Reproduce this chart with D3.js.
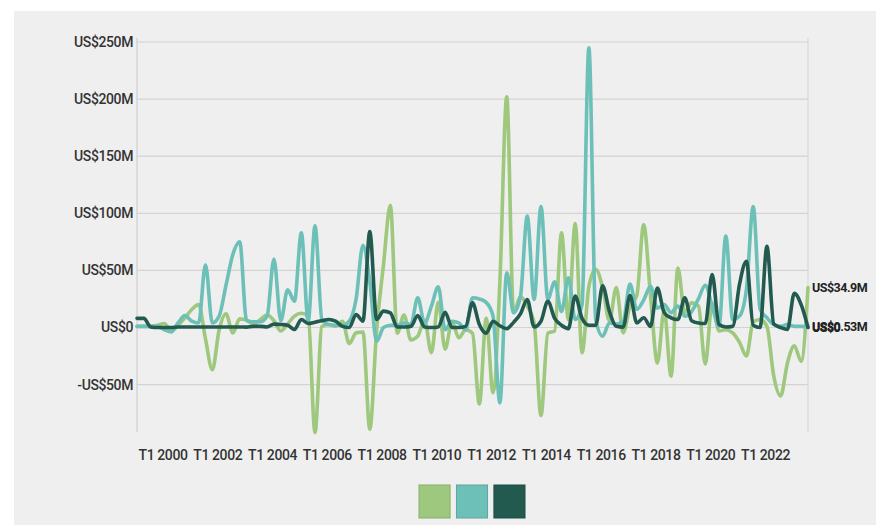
<!DOCTYPE html>
<html>
<head>
<meta charset="utf-8">
<script src="https://cdn.jsdelivr.net/npm/d3@7"></script>
<style>
  html, body { margin: 0; padding: 0; background: #ffffff; }
  svg { display: block; }
  text { font-family: Roboto, "Noto Sans", sans-serif; }
</style>
</head>
<body>
<svg id="chart" width="890" height="525"></svg>
<script>
// ---------- data (US$ millions, quarterly T1 2000 .. T3 2024) ----------
const years = d3.range(2000, 2025);
const quarters = [];
years.forEach(y => [1, 2, 3, 4].forEach(q => quarters.push("T" + q + " " + y)));
const categories = quarters.slice(0, 99);

const seriesNames = ["Série 1", "Série 2", "Série 3"];

const seriesGreen = [
  1, 1, 1, 2, 3.5, -3, 2, 8.5, 15.8, 20,
  -10, -37, -2, 12, -4.7, 7.6, 6.4, 2.6, 7, 11,
  6, -3, 3, 10, 12.5, 10, -92, 1, 2.6, 1,
  5.5, -14, -4.7, -4, -89, -2, 55, 107, -5, 11,
  -11, -7.6, 6, -22, 22, -19, 5, -9, -2, -5,
  -67, 8, -57, 40, 202, 13, 27, 18.7, 4, -77,
  -5, -3, 83, 7, 91, -22, 36, 51, 35, 6,
  35, -4.7, 18.7, 28, 90, 28, -31, 15, -42.6, 52,
  13, 21.6, 18.7, -32, 21.6, -3, -2, -4.7, -13, -25,
  5, 7, 1, -42.6, -60, -31, -16, -29.5, 34.9
];

const seriesTeal = [
  1, 1, 1, 1, -2, -4, 4, 10.5, 5.5, 4,
  55, 4, 10, 37, 64, 75, 6, 5, 5, 10,
  60, 6, 33, 23, 83, 5.5, 89, 7, 2.6, 2,
  2, 5.5, 25, 72, 40, -12, 0, 2, 2, 4,
  2.6, 26, 4, 18.7, 35.6, -2, 5.5, 4, -2, 26,
  25, 22, 10, -66, 48, 13, 27, 97.5, 24.5, 106,
  25, 40, 14, 43.5, 7, 20, 245, 7, -7.6, 4,
  3, 5, 38, 16, 24, 36, 17, 20, 13, 18.7,
  10, 14, 25, 37, 18.7, 1, 80, 7, 10, 33,
  106, 16, 8.5, 2.6, 1, 2.6, 1, 1, 0.53
];

const seriesDark = [
  8, 8, 0.5, 0, 0, 0, 0.5, 0.5, 0.5, 0.5,
  0.5, 0.5, 0.5, 0.5, 0.5, 0.5, 0.3, 1, 1, 0.5,
  3, 2.6, 2, -1.7, 7, 3.5, 4.7, 6, 7, 5.5,
  1, 0, 11.4, 5.5, 84, 7, 14.3, 12.8, 0.5, 0.5,
  1, 10.5, 0.5, 0, 0.5, 13.4, 0, 0, 1, 21.6,
  2.6, -5, 5.5, 1.5, -1, 4.5, 12, 24.5, 0.5, 5.5,
  23, 8, 2, -1, 27.5, 8, 2, 2, 36.5, 14,
  1, 0.3, 28, 4, 8.5, 1, 34.5, 13, 8.5, 7,
  26, 6, 4, 3.5, 46.4, 2.6, 0.5, 1, 38, 58,
  2, 0, 71, 3, 0, -1.7, 30, 20, 0
];

const yTicks = [-50, 0, 50, 100, 150, 200, 250];
const yTickLabels = ["-US$50M", "US$0", "US$50M", "US$100M", "US$150M", "US$200M", "US$250M"];
const xTickLabels = ["T1 2000", "T1 2002", "T1 2004", "T1 2006", "T1 2008", "T1 2010",
                     "T1 2012", "T1 2014", "T1 2016", "T1 2018", "T1 2020", "T1 2022"];
const endLabels = ["US$34.9M", "US$0.53M", "US$0"];
const colors = ["#9dc87d", "#6cc0b8", "#235a50"];

// ---------- layout ----------
const svg = d3.select("#chart");
const W = 890, H = 525;
const plot = { left: 137, right: 808, top: 42, bottom: 432 };

svg.append("rect").attr("x", 14).attr("y", 11).attr("width", 862).attr("height", H - 11)
  .attr("fill", "#efefef");

const x = d3.scalePoint().domain(categories).range([plot.left, plot.right]);
const y = d3.scaleLinear().domain([-91.5, 250]).range([plot.bottom, plot.top]);

// gridlines
const grid = svg.append("g");
grid.selectAll("line.h").data(yTicks).join("line")
  .attr("x1", plot.left).attr("x2", plot.right)
  .attr("y1", d => y(d)).attr("y2", d => y(d))
  .attr("stroke", "#d3d3d3").attr("stroke-width", 1.2);
grid.append("line").attr("x1", plot.left).attr("x2", plot.left)
  .attr("y1", plot.top - 4).attr("y2", plot.bottom).attr("stroke", "#cfcfcf").attr("stroke-width", 1.2);
grid.append("line").attr("x1", plot.right).attr("x2", plot.right)
  .attr("y1", plot.top - 4).attr("y2", plot.bottom).attr("stroke", "#d8d8d8").attr("stroke-width", 1.2);

// y axis
const yAxis = d3.axisLeft(y).tickValues(yTicks)
  .tickFormat((d, i) => yTickLabels[i]).tickSize(0).tickPadding(4);
const gy = svg.append("g").attr("transform", `translate(${plot.left},0)`).call(yAxis);
gy.select(".domain").remove();
gy.selectAll("text").attr("font-size", 14).attr("font-weight", 500)
  .attr("fill", "#333").attr("letter-spacing", -0.4)
  .attr("font-family", "Roboto, 'Noto Sans', sans-serif");

// x axis
const xTickCats = xTickLabels.slice();
const xAxis = d3.axisBottom(x).tickValues(xTickCats).tickSize(0).tickPadding(0);
const gx = svg.append("g").attr("transform", `translate(0,${plot.bottom + 18})`).call(xAxis);
gx.select(".domain").remove();
gx.selectAll("text").attr("font-size", 14).attr("font-weight", 500)
  .attr("fill", "#333").attr("letter-spacing", -0.4)
  .attr("text-anchor", "start").attr("dx", 1)
  .attr("font-family", "Roboto, 'Noto Sans', sans-serif");

// lines
const allSeries = [seriesGreen, seriesTeal, seriesDark];
const line = d3.line()
  .x((d, i) => x(categories[i]))
  .y(d => y(d))
  .curve(d3.curveMonotoneX);

const gl = svg.append("g");
allSeries.forEach((s, k) => {
  gl.append("path").datum(s)
    .attr("d", line)
    .attr("fill", "none")
    .attr("stroke", colors[k])
    .attr("stroke-width", 3.6)
    .attr("stroke-linejoin", "round")
    .attr("stroke-linecap", "round");
});

// end labels
const last = categories[categories.length - 1];
const endVals = [seriesGreen[98], seriesTeal[98], seriesDark[98]];
svg.append("g").selectAll("text").data(endLabels).join("text")
  .attr("x", x(last) + 4)
  .attr("y", (d, i) => y(endVals[i]))
  .attr("dy", "0.35em")
  .attr("font-size", 12.5).attr("font-weight", 700)
  .attr("letter-spacing", -0.5)
  .attr("fill", "#222")
  .text(d => d);

// legend (colour boxes)
const legendX = d3.scaleBand().domain(seriesNames).range([419, 525]).paddingInner(0.17);
svg.append("g").selectAll("rect").data(seriesNames).join("rect")
  .attr("x", d => legendX(d))
  .attr("y", 485)
  .attr("width", legendX.bandwidth())
  .attr("height", 33)
  .attr("fill", (d, i) => colors[i])
  .attr("stroke", (d, i) => d3.color(colors[i]).darker(0.4))
  .attr("stroke-width", 1);
</script>
</body>
</html>
